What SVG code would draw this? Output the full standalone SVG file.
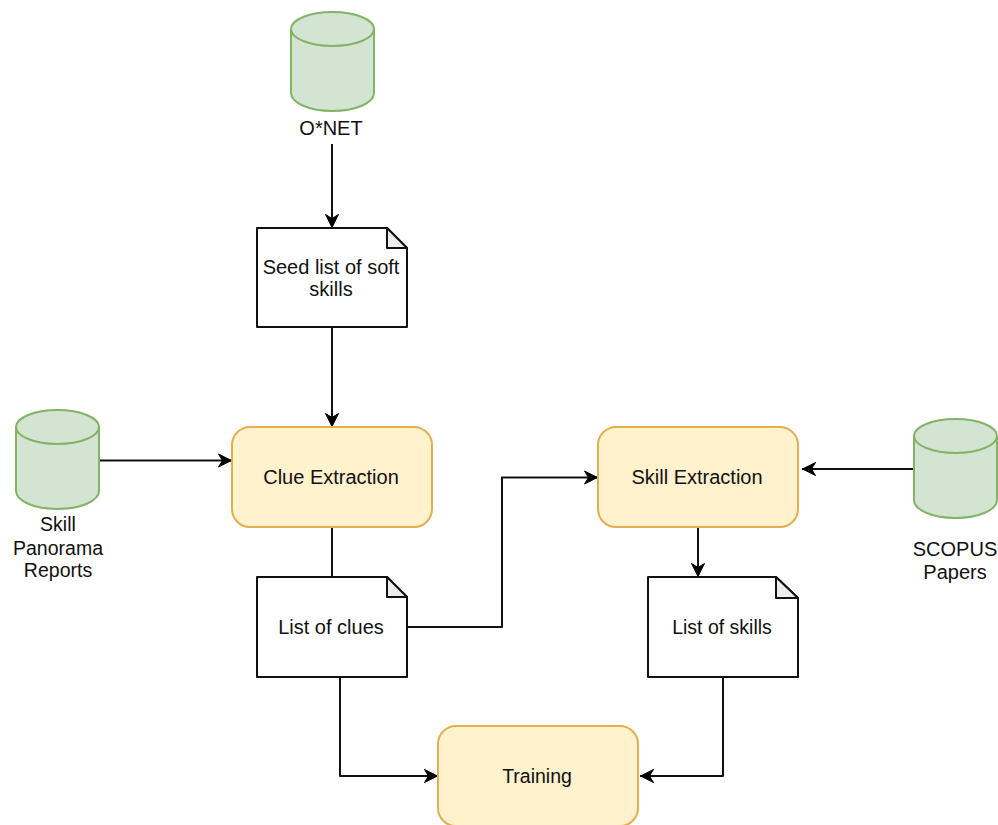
<svg xmlns="http://www.w3.org/2000/svg" width="998" height="825" viewBox="0 0 998 825">
<style>
text{font-family:"Liberation Sans",Arial,sans-serif;font-size:20px;fill:#111;text-anchor:middle}
.n{font-size:19.500px}
.db{fill:#d3e5d2;stroke:#82b366;stroke-width:2}
.proc{fill:#fff2cc;stroke:#e3ae4e;stroke-width:2}
.doc{fill:#fff;stroke:#111;stroke-width:2;stroke-linejoin:round}
.fold{fill:#eeeeee;stroke:#111;stroke-width:2;stroke-linejoin:round}
.c{fill:none;stroke:#111;stroke-width:2;stroke-linejoin:round}
.a{marker-end:url(#arrow)}
</style>
<defs>
<marker id="arrow" markerUnits="userSpaceOnUse" markerWidth="18" markerHeight="18" refX="15" refY="8" orient="auto">
<path d="M1.500 1.500 L14.500 8 L1.500 14.500 L5.500 8 Z" fill="#000" stroke="#000" stroke-width="1" stroke-linejoin="round"/>
</marker>
<g id="cyl">
<path class="db" d="M0 17 A41.500 17 0 0 1 83 17 V81 A41.500 18 0 0 1 0 81 Z"/>
<path class="db" style="fill:none" d="M0 17 A41.500 17 0 0 0 83 17"/>
</g>
</defs>
<rect width="998" height="825" fill="#fff"/>
<g id="connectors">
<path class="c a" d="M332 144 V228"/>
<path class="c a" d="M332 328 V427"/>
<path class="c a" d="M100 460.500 H232"/>
<path class="c" d="M332 527 V577"/>
<path class="c a" d="M408 627 H502 V477.500 H598"/>
<path class="c a" d="M914 469 H802"/>
<path class="c a" d="M698 527 V577"/>
<path class="c a" d="M340 677 V776 H438"/>
<path class="c a" d="M723 677 V776 H640"/>
</g>
<g id="onet"><use href="#cyl" x="291" y="12"/><text x="331" y="135">O*NET</text></g>
<g id="seed">
<path class="doc" d="M257 228 H387 L407 248 V327 H257 Z"/>
<path class="fold" d="M387 228 V248 H407 Z"/>
<text x="331" y="274">Seed list of soft</text><text x="331" y="296">skills</text>
</g>
<g id="skill-panorama"><use href="#cyl" x="16" y="410"/>
<text class="n" x="58" y="531">Skill</text><text class="n" x="58" y="554.500">Panorama</text><text class="n" x="58" y="577">Reports</text></g>
<g id="clue-extraction"><rect class="proc" x="232" y="427" width="200" height="100" rx="18"/><text x="331" y="484">Clue Extraction</text></g>
<g id="list-clues">
<path class="doc" d="M257 577 H387 L407 597 V677 H257 Z"/>
<path class="fold" d="M387 577 V597 H407 Z"/>
<text x="331" y="634">List of clues</text>
</g>
<g id="skill-extraction"><rect class="proc" x="598" y="427" width="200" height="100" rx="18"/><text x="697" y="484">Skill Extraction</text></g>
<g id="scopus"><use href="#cyl" x="914" y="419"/>
<text x="955" y="556">SCOPUS</text><text x="955" y="579">Papers</text></g>
<g id="list-skills">
<path class="doc" d="M648 577 H776 L798 598 V677 H648 Z"/>
<path class="fold" d="M776 577 V598 H798 Z"/>
<text class="n" x="722" y="634">List of skills</text>
</g>
<g id="training"><rect class="proc" x="438" y="726" width="200" height="100" rx="18"/><text class="n" x="537" y="783">Training</text></g>
</svg>
